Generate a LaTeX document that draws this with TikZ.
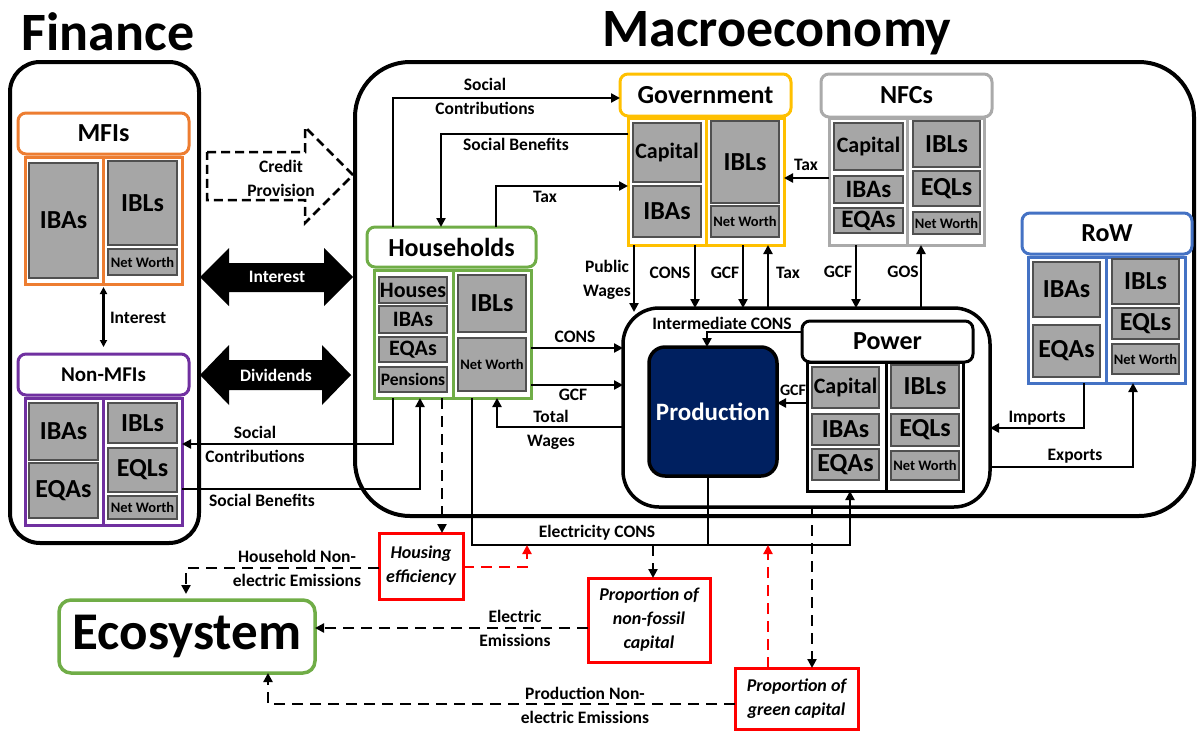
\documentclass[tikz,border=0pt]{standalone}
\usepackage{fontspec}
\setmainfont{Carlito}
\usetikzlibrary{arrows.meta,calc}
\definecolor{cOrange}{HTML}{ED7D31}
\definecolor{cPurple}{HTML}{7030A0}
\definecolor{cGold}{HTML}{FFC000}
\definecolor{cNfc}{HTML}{AAAAAA}
\definecolor{cBlue}{HTML}{4472C4}
\definecolor{cGreen}{HTML}{70AD47}
\definecolor{cRed}{HTML}{FF0000}
\definecolor{cNavy}{HTML}{002060}
\definecolor{gFill}{HTML}{A6A6A6}
\definecolor{gBord}{HTML}{505050}
\newcommand\bx[7]{%
  \pgfmathsetmacro\bxcx{(#2+#4)/2}%
  \pgfmathsetmacro\bxcy{(#3+#5)/2}%
  \pgfmathsetmacro\bxw{#4-#2}%
  \pgfmathsetmacro\bxh{#5-#3}%
  \node[#1, minimum width=\bxw pt, minimum height=\bxh pt] (#6) at (\bxcx,\bxcy) {#7};}
\begin{document}
\begin{tikzpicture}[x=1pt,y=-1pt,
  every node/.style={inner sep=0pt, outer sep=0pt},
  f26/.style={font=\fontsize{26}{30}\selectfont\bfseries},
  f22/.style={font=\fontsize{22}{26}\selectfont\bfseries},
  f25/.style={font=\fontsize{25}{29}\selectfont\bfseries},
  fnw/.style={font=\fontsize{14.5}{17}\selectfont\bfseries},
  hdr/.style={draw=#1, line width=3pt, rounded corners=8pt, fill=white, f26},
  bodybox/.style={draw=#1, line width=3pt, fill=white},
  gb/.style={draw=gBord, line width=1.6pt, fill=gFill, f26},
  bigbox/.style={draw=black, line width=4pt},
  lab/.style={font=\fontsize{17.5}{24}\selectfont\bfseries, align=center},
  redbox/.style={draw=cRed, line width=3pt, fill=white, align=center, font=\fontsize{18}{24}\selectfont\bfseries\itshape},
  conn/.style={line width=2.8pt, -{Triangle[length=9pt,width=9pt]}},
  plain/.style={line width=2.8pt},
  dconn/.style={conn, dash pattern=on 11pt off 7pt},
  rconn/.style={line width=2.8pt, draw=cRed, dash pattern=on 11pt off 7pt, -{Triangle[length=9pt,width=9pt]}},
]
\useasboundingbox (0,0) rectangle (1198,731);

% ---------- titles ----------
\node[font=\fontsize{54}{60}\selectfont\bfseries, anchor=base] (tfin) at (108,50) {Finance};
\node[font=\fontsize{54}{60}\selectfont\bfseries, anchor=base] (tmac) at (777,46) {Macroeconomy};

% ---------- big frames ----------
\bx{bigbox, rounded corners=30pt}{10}{62}{199}{543}{fin}{}
\bx{bigbox, rounded corners=55pt}{355}{62}{1194}{516}{mac}{}

% ---------- MFIs ----------
\bx{hdr=cOrange}{18}{113}{189}{154}{mfih}{MFIs}
\bx{bodybox=cOrange}{25}{157}{182}{284}{mfib}{}
\draw[cOrange, line width=3pt] (103,157) -- (103,284);
\bx{gb}{29}{163}{98}{278}{mfiIBA}{IBAs}
\bx{gb}{108}{161}{177}{245}{mfiIBL}{IBLs}
\bx{gb,fnw}{108}{249}{177}{275}{mfiNW}{Net Worth}

% ---------- Non-MFIs ----------
\bx{hdr=cPurple,font=\fontsize{21}{25}\selectfont\bfseries}{18}{354}{189}{395}{nmfih}{Non-MFIs}
\bx{bodybox=cPurple}{25}{398}{182}{525}{nmfib}{}
\draw[cPurple, line width=3pt] (103,398) -- (103,525);
\bx{gb}{29}{403}{98}{460}{nmfiIBA}{IBAs}
\bx{gb}{29}{463}{98}{518}{nmfiEQA}{EQAs}
\bx{gb}{108}{403}{177}{443}{nmfiIBL}{IBLs}
\bx{gb}{108}{448}{177}{492}{nmfiEQL}{EQLs}
\bx{gb,fnw}{108}{496}{177}{519}{nmfiNW}{Net Worth}

\draw[line width=2.4pt, {Triangle[length=7pt,width=7pt]}-{Triangle[length=7pt,width=7pt]}, shorten <=3pt, shorten >=7pt] (mfib.south) -- (nmfih.north);
\node[lab, anchor=west] (lintv) at (110,318) {Interest};

% ---------- block arrows ----------
\draw[line width=2.5pt, dash pattern=on 9pt off 5pt] (207,152) -- (305,152) -- (305,127) -- (353,175) -- (305,223) -- (305,200) -- (207,200) -- cycle;
\node[lab] (lcp) at (281,178) {Credit\\Provision};
\fill (200,277) -- (229,248) -- (229,263) -- (324,263) -- (324,248) -- (353,277) -- (324,306) -- (324,292) -- (229,292) -- (229,306) -- cycle;
\node[lab, text=white] (lint) at (277,277) {Interest};
\fill (200,375) -- (229,345) -- (229,360) -- (322,360) -- (322,345) -- (351,375) -- (322,405) -- (322,390) -- (229,390) -- (229,405) -- cycle;
\node[lab, text=white] (ldiv) at (276,375) {Dividends};

% ---------- Government ----------
\bx{hdr=cGold}{620}{74}{791}{116}{govh}{Government}
\bx{bodybox=cGold}{628}{118}{784}{245}{govb}{}
\draw[cGold, line width=3pt] (706,118) -- (706,245);
\bx{gb,f22}{633}{123}{701}{182}{govCap}{Capital}
\bx{gb}{633}{186}{701}{237}{govIBA}{IBAs}
\bx{gb}{711}{121}{779}{203}{govIBL}{IBLs}
\bx{gb,fnw}{711}{206}{779}{237}{govNW}{Net Worth}

% ---------- NFCs ----------
\bx{hdr=cNfc}{821}{74}{992}{117}{nfch}{NFCs}
\bx{bodybox=cNfc}{829}{118}{984}{245}{nfcb}{}
\draw[cNfc, line width=3pt] (907,118) -- (907,245);
\bx{gb,f22}{834}{123}{903}{170}{nfcCap}{Capital}
\bx{gb,f25}{834}{176}{903}{203}{nfcIBA}{IBAs}
\bx{gb,f25}{834}{208}{903}{233}{nfcEQA}{EQAs}
\bx{gb}{913}{121}{980}{167}{nfcIBL}{IBLs}
\bx{gb}{913}{171}{980}{206}{nfcEQL}{EQLs}
\bx{gb,fnw}{913}{212}{980}{234}{nfcNW}{Net Worth}

% ---------- RoW ----------
\bx{hdr=cBlue}{1022}{213}{1192}{254}{rowh}{RoW}
\bx{bodybox=cBlue}{1028}{257}{1185}{383}{rowb}{}
\draw[cBlue, line width=3pt] (1106,257) -- (1106,383);
\bx{gb}{1033}{262}{1100}{317}{rowIBA}{IBAs}
\bx{gb}{1033}{325}{1100}{377}{rowEQA}{EQAs}
\bx{gb}{1112}{259}{1179}{304}{rowIBL}{IBLs}
\bx{gb}{1112}{308}{1179}{339}{rowEQL}{EQLs}
\bx{gb,fnw}{1112}{344}{1179}{374}{rowNW}{Net Worth}

% ---------- Households ----------
\bx{hdr=cGreen}{367}{227}{536}{267}{hhh}{Households}
\bx{bodybox=cGreen}{374}{270}{531}{398}{hhb}{}
\draw[cGreen, line width=3pt] (453,270) -- (453,398);
\bx{gb,f22}{379}{277}{447}{303}{hhHou}{Houses}
\bx{gb,f22}{379}{306}{447}{333}{hhIBA}{IBAs}
\bx{gb,f22}{379}{337}{447}{362}{hhEQA}{EQAs}
\bx{gb,font=\fontsize{17.5}{20}\selectfont\bfseries}{379}{367}{447}{392}{hhPen}{Pensions}
\bx{gb}{458}{275}{526}{332}{hhIBL}{IBLs}
\bx{gb,fnw}{458}{338}{526}{391}{hhNW}{Net Worth}

% ---------- Production block ----------
\bx{draw, line width=3.5pt, rounded corners=36pt}{623}{308}{990}{507}{prod}{}
\bx{hdr=black}{802}{321}{973}{362}{powh}{Power}
\bx{bodybox=black}{807}{362}{963}{491}{powb}{}
\draw[line width=3pt] (886,362) -- (886,491);
\bx{gb,f22}{812}{367}{879}{408}{powCap}{Capital}
\bx{gb}{812}{414}{879}{445}{powIBA}{IBAs}
\bx{gb}{812}{449}{879}{480}{powEQA}{EQAs}
\bx{gb}{891}{365}{959}{408}{powIBL}{IBLs}
\bx{gb}{891}{414}{959}{446}{powEQL}{EQLs}
\bx{gb,fnw}{891}{451}{959}{480}{powNW}{Net Worth}
\bx{draw, line width=3.5pt, fill=cNavy, rounded corners=16pt, text=white, f25}{649}{347}{777}{476}{pn}{Production}

% ---------- red boxes and Ecosystem ----------
\bx{redbox}{379}{533}{463}{599}{heff}{Housing\\efficiency}
\bx{redbox}{588}{578}{710}{662}{nfos}{Proportion of\\non-fossil\\capital}
\bx{redbox}{735}{668}{858}{729}{green}{Proportion of\\green capital}
\bx{draw=cGreen, line width=3.5pt, rounded corners=12pt, fill=white, font=\fontsize{53}{60}\selectfont\bfseries}{59}{600}{315}{673}{eco}{Ecosystem}

% ---------- coordinates for bends ----------
\coordinate (c1) at (393,98);
\coordinate (c2) at (441,134);
\coordinate (c3) at (496,186);
\coordinate (c4) at (0,178);
\coordinate (c5) at (634,0);
\coordinate (c6) at (695,0);
\coordinate (c7) at (743,0);
\coordinate (c8) at (768,0);
\coordinate (c9) at (856,0);
\coordinate (c10) at (921,0);
\coordinate (c11) at (1084,428);
\coordinate (c12) at (1133,467);
\coordinate (c13) at (707,332);
\coordinate (c14) at (0,403);
\coordinate (c15) at (0,348);
\coordinate (c16) at (0,385);
\coordinate (c17) at (497,427);
\coordinate (c18) at (393,444);
\coordinate (c19) at (420,489);
\coordinate (c20) at (442,0);
\coordinate (c21) at (472,545);
\coordinate (c22) at (850,545);
\coordinate (c23) at (708,545);
\coordinate (c24) at (527,567);
\coordinate (c25) at (653,545);
\coordinate (c26) at (812,0);
\coordinate (c27) at (768,545);
\coordinate (c28) at (186,568);
\coordinate (c29) at (0,628);
\coordinate (c30) at (268,704);

% ---------- macro connectors ----------
\draw[conn] (hhh.north -| c1) -- (c1) -- (govh.west |- c1);
\node[lab] (lsc1) at (485,96) {Social\\Contributions};
\draw[conn] (govb.west |- c2) -- (c2) -- (hhh.north -| c2);
\node[lab] (lsb1) at (516,144) {Social Benefits};
\draw[conn] (hhh.north -| c3) -- (c3) -- (govb.west |- c3);
\node[lab] (ltax1) at (545,197) {Tax};
\draw[conn] (nfcb.west |- c4) -- (govb.east |- c4);
\node[lab] (ltax2) at (806,165) {Tax};

\draw[conn, shorten >=-4pt] (govb.south -| c5) -- (prod.north -| c5);
\node[lab] (lpw) at (607,280) {Public\\Wages};
\draw[conn] (govb.south -| c6) -- (prod.north -| c6);
\node[lab] (lcons1) at (670,273) {CONS};
\draw[conn] (govb.south -| c7) -- (prod.north -| c7);
\node[lab] (lgcf1) at (725,273) {GCF};
\draw[conn] (prod.north -| c8) -- (govb.south -| c8);
\node[lab] (ltax3) at (788,273) {Tax};
\draw[conn] (nfcb.south -| c9) -- (prod.north -| c9);
\node[lab] (lgcf2) at (838,272) {GCF};
\draw[conn] (prod.north -| c10) -- (nfcb.south -| c10);
\node[lab] (lgos) at (903,272) {GOS};

\draw[conn] (rowb.south -| c11) -- (c11) -- (prod.east |- c11);
\node[lab] (limp) at (1037,418) {Imports};
\draw[conn] (prod.east |- c12) -- (c12) -- (rowb.south -| c12);
\node[lab] (lexp) at (1075,456) {Exports};

\draw[conn] (powh.west |- c13) -- (c13) -- (pn.north -| c13);
\node[lab] (lic) at (722,323) {Intermediate CONS};
\draw[conn] (powb.west |- c14) -- (pn.east |- c14);
\node[lab, font=\fontsize{16}{20}\selectfont\bfseries] (lgcf3) at (793,390) {GCF};

\draw[conn] (hhb.east |- c15) -- (prod.west |- c15);
\node[lab] (lcons2) at (575,337) {CONS};
\draw[conn] (hhb.east |- c16) -- (prod.west |- c16);
\node[lab] (lgcf4) at (573,395) {GCF};
\draw[conn] (prod.west |- c17) -- (c17) -- (hhb.south -| c17);
\node[lab] (ltw) at (551,430) {Total\\Wages};

\draw[conn] (hhb.south -| c18) -- (c18) -- (nmfib.east |- c18);
\node[lab] (lsc2) at (255,444) {Social\\Contributions};
\draw[conn] (nmfib.east |- c19) -- (c19) -- (hhb.south -| c19);
\node[lab] (lsb2) at (262,500) {Social Benefits};

% ---------- electricity and dashed links ----------
\draw[dconn] (hhb.south -| c20) -- (heff.north -| c20);
\draw[conn] (hhb.south -| c21) -- (c21) -- (c22) -- (powb.south -| c22);
\draw[plain] (pn.south -| c23) -- (c23);
\node[lab] (lec) at (597,533) {Electricity CONS};
\draw[rconn] (heff.east |- c24) -- (c24) -- (c24 |- c21);
\draw[dconn] (c25) -- (nfos.north -| c25);
\draw[dconn] (prod.south -| c26) -- (green.north -| c26);
\draw[rconn] (green.north -| c27) -- (c27);

\draw[dconn, shorten >=6pt] (heff.west |- c28) -- (c28) -- (eco.north -| c28);
\node[lab] (lhne) at (297,568) {Household Non-\\electric Emissions};
\draw[dconn] (nfos.west |- c29) -- (eco.east |- c29);
\node[lab] (lee) at (515,628) {Electric\\Emissions};
\draw[dconn] (green.west |- c30) -- (c30) -- (eco.south -| c30);
\node[lab] (lpne) at (585,705) {Production Non-\\electric Emissions};
\end{tikzpicture}
\end{document}
